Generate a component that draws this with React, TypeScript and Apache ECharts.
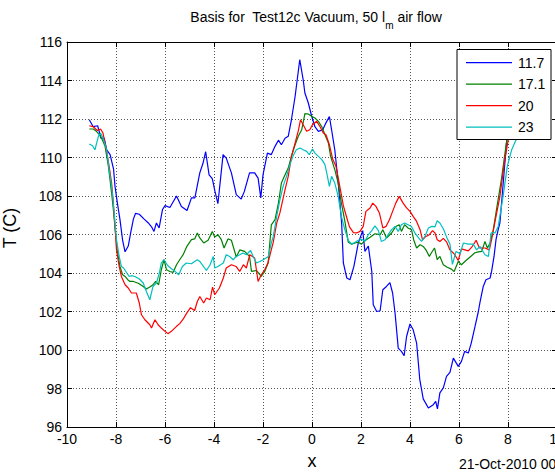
import React, { useEffect, useRef } from "react";
import * as echarts from "echarts";

// Probe traces: [x, T] pairs for each air-flow setting
const series11_7: [number, number][] = [
  [-9.09, 111.96], [-8.93, 111.6], [-8.75, 111.65], [-8.61, 111.0], [-8.48, 111.0], [-8.38, 110.4],
  [-8.24, 110.15], [-8.1, 109.4], [-8.04, 108.5], [-7.94, 107.6], [-7.84, 106.8], [-7.73, 105.7],
  [-7.63, 105.1], [-7.5, 105.4], [-7.4, 106.1], [-7.29, 106.8], [-7.2, 107.1], [-7.05, 107.05],
  [-6.85, 106.8], [-6.68, 106.6], [-6.55, 106.4], [-6.45, 106.16], [-6.35, 106.6], [-6.24, 106.34],
  [-6.1, 107.3], [-6.0, 107.5], [-5.8, 107.4], [-5.53, 108.0], [-5.33, 107.46], [-5.1, 107.25],
  [-4.92, 107.9], [-4.78, 107.9], [-4.58, 109.2], [-4.45, 109.7], [-4.34, 110.3], [-4.2, 109.1],
  [-4.07, 108.9], [-3.96, 108.24], [-3.84, 107.6], [-3.63, 110.15], [-3.5, 109.97], [-3.29, 109.2],
  [-3.09, 108.07], [-2.89, 107.84], [-2.76, 108.24], [-2.55, 109.2], [-2.34, 109.2], [-2.2, 108.93],
  [-2.09, 107.9], [-2.0, 109.1], [-1.82, 110.23], [-1.66, 110.15], [-1.51, 110.58], [-1.37, 110.9],
  [-1.25, 110.66], [-1.1, 111.0], [-0.97, 111.1], [-0.84, 111.96], [-0.69, 113.17], [-0.5, 115.08],
  [-0.36, 114.04], [-0.29, 113.35], [-0.15, 112.83], [-0.01, 112.13], [0.12, 111.6], [0.26, 111.36],
  [0.44, 111.44], [0.57, 111.8], [0.71, 112.13], [0.8, 111.44], [0.93, 110.4], [1.07, 108.7],
  [1.21, 106.6], [1.28, 104.52], [1.42, 103.74], [1.55, 103.65], [1.71, 104.34], [1.89, 105.56],
  [2.07, 106.2], [2.16, 105.12], [2.3, 105.4], [2.44, 104.08], [2.5, 102.35], [2.64, 102.0],
  [2.78, 102.04], [2.89, 103.13], [3.04, 103.3], [3.18, 103.5], [3.29, 102.96], [3.39, 101.92],
  [3.52, 100.1], [3.65, 99.93], [3.76, 99.7], [3.86, 100.7], [4.0, 101.35], [4.13, 101.05],
  [4.27, 100.36], [4.4, 98.46], [4.54, 97.46], [4.75, 96.99], [4.95, 97.16], [5.05, 97.33],
  [5.12, 96.94], [5.22, 97.77], [5.36, 98.03], [5.49, 98.63], [5.63, 98.84], [5.77, 99.58],
  [5.97, 99.15], [6.1, 99.41], [6.23, 99.93], [6.38, 99.84], [6.5, 100.36], [6.65, 101.2],
  [6.79, 102.0], [6.86, 102.5], [6.99, 103.3], [7.1, 103.65], [7.27, 103.74], [7.33, 104.08],
  [7.43, 104.86], [7.51, 105.73], [7.6, 106.25], [7.67, 106.6], [7.8, 108.6], [7.95, 110.9],
  [8.1, 112.4], [8.3, 113.4],
];

const series17_1: [number, number][] = [
  [-9.09, 111.48], [-8.93, 111.48], [-8.8, 111.36], [-8.67, 111.18], [-8.55, 110.9], [-8.45, 110.6],
  [-8.31, 109.54], [-8.18, 108.16], [-8.12, 107.46], [-8.02, 106.08], [-7.95, 105.2], [-7.84, 104.34],
  [-7.73, 103.91], [-7.63, 103.82], [-7.52, 103.65], [-7.43, 103.56], [-7.29, 103.56], [-7.09, 103.47],
  [-6.89, 103.3], [-6.76, 103.17], [-6.62, 103.27], [-6.49, 103.39], [-6.38, 103.56], [-6.26, 103.39],
  [-6.15, 104.17], [-6.04, 104.69], [-5.94, 104.17], [-5.8, 104.08], [-5.67, 104.03], [-5.53, 104.43],
  [-5.4, 104.69], [-5.26, 104.95], [-5.1, 105.4], [-4.92, 105.73], [-4.79, 105.77], [-4.68, 106.08],
  [-4.58, 105.82], [-4.42, 105.56], [-4.24, 105.7], [-4.07, 106.16], [-3.97, 105.87], [-3.84, 105.99],
  [-3.7, 105.73], [-3.59, 105.3], [-3.43, 105.77], [-3.29, 105.7], [-3.09, 104.83], [-2.95, 105.2],
  [-2.75, 105.12], [-2.55, 104.86], [-2.47, 104.08], [-2.27, 104.13], [-2.07, 103.82], [-1.93, 104.08],
  [-1.79, 104.52], [-1.66, 106.5], [-1.51, 106.77], [-1.37, 107.63], [-1.25, 108.67], [-1.1, 109.1],
  [-0.97, 109.45], [-0.84, 110.06], [-0.69, 110.66], [-0.56, 111.1], [-0.42, 111.44], [-0.29, 112.28],
  [-0.15, 112.26], [0.0, 112.13], [0.12, 112.05], [0.26, 111.88], [0.4, 111.6], [0.53, 111.18],
  [0.67, 110.75], [0.76, 110.06], [0.93, 109.37], [1.07, 108.67], [1.2, 107.63], [1.33, 106.77],
  [1.48, 105.6], [1.62, 105.5], [1.76, 105.56], [1.89, 105.6], [2.02, 105.5], [2.16, 105.68],
  [2.37, 105.86], [2.57, 106.04], [2.78, 105.99], [2.89, 106.25], [3.04, 105.82], [3.25, 106.08],
  [3.42, 106.42], [3.56, 106.51], [3.65, 106.16], [3.78, 106.51], [3.92, 106.34], [4.06, 106.25],
  [4.15, 105.73], [4.27, 105.3], [4.41, 105.47], [4.54, 105.38], [4.65, 105.2], [4.79, 104.86],
  [4.87, 105.04], [5.0, 105.3], [5.11, 104.7], [5.22, 104.86], [5.36, 104.43], [5.52, 104.3],
  [5.69, 104.2], [5.8, 104.08], [5.97, 104.6], [6.1, 104.43], [6.24, 104.6], [6.44, 104.82],
  [6.65, 105.05], [6.79, 105.1], [6.93, 105.12], [7.06, 105.64], [7.16, 105.3], [7.27, 105.56],
  [7.4, 106.25], [7.53, 107.29], [7.73, 108.85], [7.95, 110.92], [8.15, 112.3], [8.35, 113.0],
];

const series20: [number, number][] = [
  [-9.09, 111.65], [-8.93, 111.6], [-8.76, 111.4], [-8.63, 111.48], [-8.53, 111.27], [-8.42, 110.58],
  [-8.28, 109.54], [-8.18, 108.67], [-8.12, 107.8], [-8.04, 106.42], [-7.98, 105.2], [-7.87, 104.34],
  [-7.78, 103.82], [-7.63, 103.39], [-7.5, 103.22], [-7.37, 102.96], [-7.17, 102.96], [-7.05, 102.44],
  [-6.96, 101.83], [-6.82, 101.57], [-6.62, 101.31], [-6.55, 101.14], [-6.41, 101.57], [-6.28, 101.31],
  [-6.15, 101.14], [-6.0, 100.97], [-5.88, 100.85], [-5.74, 100.97], [-5.53, 101.23], [-5.4, 101.37],
  [-5.26, 101.6], [-5.12, 101.9], [-4.96, 102.2], [-4.79, 102.05], [-4.68, 102.52], [-4.58, 102.78],
  [-4.42, 102.44], [-4.31, 102.7], [-4.16, 102.61], [-4.06, 103.27], [-3.97, 102.87], [-3.78, 103.22],
  [-3.62, 103.74], [-3.5, 104.26], [-3.29, 104.43], [-3.1, 104.34], [-2.95, 104.08], [-2.8, 104.43],
  [-2.68, 104.26], [-2.54, 104.95], [-2.34, 104.78], [-2.2, 103.56], [-2.07, 103.91], [-1.93, 104.17],
  [-1.8, 104.52], [-1.58, 105.6], [-1.44, 106.6], [-1.31, 107.12], [-1.1, 108.33], [-0.97, 109.02],
  [-0.84, 110.06], [-0.69, 110.75], [-0.55, 111.44], [-0.47, 111.96], [-0.36, 111.7], [-0.22, 111.36],
  [-0.09, 111.44], [0.02, 111.7], [0.19, 111.88], [0.33, 111.6], [0.46, 111.27], [0.57, 111.18],
  [0.71, 110.66], [0.85, 109.89], [0.98, 109.54], [1.11, 108.67], [1.28, 107.5], [1.39, 107.0],
  [1.53, 106.4], [1.69, 106.1], [1.82, 106.08], [1.96, 106.16], [2.09, 106.42], [2.2, 107.2],
  [2.37, 107.38], [2.48, 107.63], [2.61, 107.46], [2.75, 107.12], [2.89, 106.34], [3.02, 106.42],
  [3.16, 106.77], [3.29, 107.2], [3.42, 107.63], [3.56, 107.98], [3.72, 107.63], [3.86, 107.38],
  [4.0, 107.2], [4.13, 106.94], [4.27, 106.68], [4.41, 106.25], [4.51, 105.73], [4.65, 105.9],
  [4.79, 105.99], [4.92, 106.2], [5.02, 106.08], [5.11, 105.73], [5.22, 105.64], [5.36, 105.8],
  [5.5, 105.6], [5.63, 105.2], [5.8, 105.0], [5.97, 104.65], [6.1, 105.25], [6.24, 105.2],
  [6.38, 105.15], [6.52, 105.34], [6.7, 105.7], [6.83, 105.3], [7.06, 105.3], [7.24, 105.2],
  [7.33, 105.73], [7.46, 106.6], [7.67, 107.98], [7.87, 109.9], [8.01, 110.92], [8.2, 112.0],
  [8.4, 112.6],
];

const series23: [number, number][] = [
  [-9.09, 110.7], [-8.96, 110.61], [-8.86, 110.4], [-8.72, 111.1], [-8.63, 111.27], [-8.53, 111.01],
  [-8.38, 110.4], [-8.28, 109.36], [-8.18, 108.5], [-8.12, 107.8], [-8.04, 106.6], [-7.98, 105.73],
  [-7.87, 104.86], [-7.78, 104.34], [-7.69, 104.26], [-7.56, 104.0], [-7.46, 103.82], [-7.37, 103.86],
  [-7.22, 103.82], [-7.05, 103.69], [-6.89, 103.48], [-6.76, 103.04], [-6.62, 102.61], [-6.49, 103.3],
  [-6.35, 103.48], [-6.23, 104.0], [-6.15, 104.52], [-6.04, 104.69], [-5.9, 104.4], [-5.74, 104.22],
  [-5.6, 104.1], [-5.44, 103.91], [-5.29, 104.34], [-5.13, 104.52], [-4.92, 104.48], [-4.79, 104.6],
  [-4.68, 104.69], [-4.58, 104.6], [-4.31, 104.13], [-4.16, 104.43], [-4.03, 104.86], [-3.97, 104.26],
  [-3.84, 104.34], [-3.62, 104.52], [-3.5, 104.95], [-3.36, 104.86], [-3.22, 104.69], [-3.09, 104.86],
  [-2.95, 104.95], [-2.82, 105.04], [-2.68, 104.95], [-2.51, 105.17], [-2.4, 104.86], [-2.27, 104.52],
  [-2.13, 104.6], [-1.99, 104.69], [-1.78, 104.86], [-1.66, 105.56], [-1.58, 105.9], [-1.44, 106.94],
  [-1.31, 107.8], [-1.18, 108.5], [-1.04, 109.02], [-0.9, 109.63], [-0.78, 110.06], [-0.64, 110.4],
  [-0.49, 110.49], [-0.36, 110.4], [-0.22, 110.32], [-0.11, 110.15], [0.02, 110.44], [0.12, 110.23],
  [0.26, 110.06], [0.4, 109.89], [0.53, 109.63], [0.63, 109.02], [0.71, 108.5], [0.8, 109.02],
  [0.93, 108.67], [1.07, 107.98], [1.2, 106.94], [1.33, 106.3], [1.48, 105.7], [1.62, 105.5],
  [1.76, 105.6], [1.89, 105.7], [2.02, 105.75], [2.16, 105.65], [2.3, 105.99], [2.44, 106.2],
  [2.57, 106.45], [2.71, 106.2], [2.83, 105.64], [2.98, 105.73], [3.11, 105.99], [3.25, 106.25],
  [3.39, 106.42], [3.52, 106.16], [3.65, 106.51], [3.78, 106.6], [3.92, 106.51], [4.06, 106.42],
  [4.2, 106.08], [4.35, 105.82], [4.47, 105.64], [4.61, 105.9], [4.75, 106.34], [4.89, 106.42],
  [5.02, 106.4], [5.11, 106.72], [5.22, 106.6], [5.36, 106.3], [5.5, 105.85], [5.63, 105.5],
  [5.73, 104.45], [5.88, 105.12], [6.04, 105.0], [6.18, 105.56], [6.38, 105.5], [6.58, 105.5],
  [6.72, 105.2], [6.86, 105.38], [7.06, 104.95], [7.2, 104.86], [7.31, 106.08], [7.47, 106.08],
  [7.6, 106.42], [7.8, 107.98], [7.97, 109.54], [8.15, 110.4], [8.33, 110.92], [8.5, 111.8],
];

const seriesNames = ["11.7", "17.1", "20", "23"];
const seriesColors = ["#0000ff", "#008000", "#ff0000", "#00bfbf"];
const seriesData = [series11_7, series17_1, series20, series23];

const X_MIN = -10;
const X_MAX = 10;
const Y_MIN = 96;
const Y_MAX = 116;
const TICK_STEP = 2;

const FONT = "'Liberation Sans', Arial, Helvetica, sans-serif";

// Boxed legend in the upper-right corner of the axes
const LEGEND_X = 457;
const LEGEND_Y = 49.5;
const LEGEND_W = 94;
const LEGEND_H = 90;
const LEGEND_ROW0 = 62.7;
const LEGEND_ROW_STEP = 21.5;

function legendGraphics() {
  const items: any[] = [
    {
      type: "rect",
      z: 100,
      shape: { x: LEGEND_X, y: LEGEND_Y, width: LEGEND_W, height: LEGEND_H },
      style: { fill: "#fff", stroke: "#000", lineWidth: 1 },
    },
  ];
  seriesNames.forEach((name, i) => {
    const y = LEGEND_ROW0 + i * LEGEND_ROW_STEP;
    items.push({
      type: "line",
      z: 101,
      shape: { x1: LEGEND_X + 9, y1: y, x2: LEGEND_X + 55, y2: y },
      style: { stroke: seriesColors[i], lineWidth: 1.2 },
    });
    items.push({
      type: "text",
      z: 101,
      x: LEGEND_X + 61,
      y,
      style: {
        text: name,
        fontFamily: FONT,
        fontSize: 14,
        fill: "#000",
        align: "left",
        verticalAlign: "middle",
      },
    });
  });
  return items;
}

export default function App() {
  const ref = useRef<HTMLDivElement>(null);

  useEffect(() => {
    if (!ref.current) return;
    const chart = echarts.init(ref.current, undefined, { renderer: "svg" });

    const gridLine = { show: true, lineStyle: { color: "#555", width: 1, type: [1, 2] as number[] } };
    const axisLine = { show: true, onZero: false, lineStyle: { color: "#000", width: 1 } };
    const tick = { show: true, inside: true, length: 5, lineStyle: { color: "#000" } };

    chart.setOption({
      animation: false,
      backgroundColor: "#fff",
      title: {
        text: "{a|Basis for  Test12c Vacuum, 50 l}{s|m}{a| air flow}",
        left: 311,
        top: 5,
        textAlign: "center",
        textStyle: {
          fontWeight: "normal",
          rich: {
            a: { fontFamily: FONT, fontSize: 14, fontWeight: "normal", color: "#000", lineHeight: 20, verticalAlign: "top" },
            s: { fontFamily: FONT, fontSize: 10, fontWeight: "normal", color: "#000", lineHeight: 20, verticalAlign: "bottom" },
          },
        },
      },
      grid: { left: 67, top: 42, width: 490, height: 385, containLabel: false, outerBoundsMode: "none" },
      xAxis: [
        {
          type: "value",
          min: X_MIN,
          max: X_MAX,
          interval: TICK_STEP,
          position: "bottom",
          axisLine,
          axisTick: tick,
          splitLine: gridLine,
          axisLabel: { color: "#000", fontFamily: FONT, fontSize: 14, margin: 5 },
          name: "x",
          nameLocation: "middle",
          nameGap: 25,
          nameTextStyle: { fontFamily: FONT, fontSize: 18, color: "#000" },
        },
        {
          type: "value",
          min: X_MIN,
          max: X_MAX,
          interval: TICK_STEP,
          position: "top",
          axisLine,
          axisTick: tick,
          splitLine: { show: false },
          axisLabel: { show: false },
        },
      ],
      yAxis: [
        {
          type: "value",
          min: Y_MIN,
          max: Y_MAX,
          interval: TICK_STEP,
          position: "left",
          axisLine,
          axisTick: tick,
          splitLine: gridLine,
          axisLabel: { color: "#000", fontFamily: FONT, fontSize: 14, margin: 5 },
        },
        {
          type: "value",
          min: Y_MIN,
          max: Y_MAX,
          interval: TICK_STEP,
          position: "right",
          axisLine,
          axisTick: tick,
          splitLine: { show: false },
          axisLabel: { show: false },
        },
      ],
      graphic: [
        {
          type: "text",
          x: 10,
          y: 228,
          rotation: Math.PI / 2,
          style: {
            text: "T (C)",
            fontFamily: FONT,
            fontSize: 18,
            fill: "#000",
            align: "center",
            verticalAlign: "middle",
          },
        },
        {
          type: "text",
          x: 459,
          y: 464,
          style: {
            text: "21-Oct-2010 00",
            fontFamily: FONT,
            fontSize: 14,
            fill: "#000",
            align: "left",
            verticalAlign: "middle",
          },
        },
        ...legendGraphics(),
      ],
      series: seriesData.map((d, i) => ({
        name: seriesNames[i],
        type: "line",
        data: d,
        xAxisIndex: 0,
        yAxisIndex: 0,
        symbol: "none",
        showSymbol: false,
        clip: true,
        color: seriesColors[i],
        lineStyle: { color: seriesColors[i], width: 1.2 },
      })),
    });

    return () => chart.dispose();
  }, []);

  return (
    <div
      ref={ref}
      style={{ position: "fixed", left: 0, top: 0, width: 555, height: 474, background: "#fff" }}
    />
  );
}
